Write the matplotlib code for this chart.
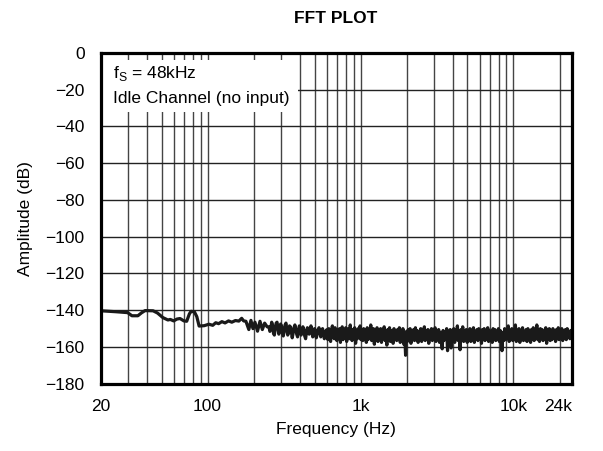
import numpy as np
import matplotlib.pyplot as plt
from matplotlib.patches import Rectangle

plt.rcParams['font.family'] = ['Liberation Sans', 'DejaVu Sans']
plt.rcParams['font.size'] = 12.5

# низкие частоты: ступенчатый участок (Гц, дБ)
lo_freq = [20, 25, 30, 32, 35, 37, 39, 44, 47, 51,
           55, 57, 60, 63, 66, 70, 73, 76, 78, 82,
           85, 88, 95, 102, 108, 113, 118, 124, 130, 137,
           144, 152, 160, 167, 172, 178, 186, 192, 198, 204,
           212, 220, 228, 236, 245]
lo_db = [-140.3, -140.8, -141.3, -143.0, -143.0, -141.4, -140.2, -140.3, -141.5, -144.0,
         -145.3, -145.0, -145.8, -144.8, -144.5, -145.8, -146.0, -142.0, -140.6, -140.9,
         -143.5, -148.6, -148.4, -147.6, -148.2, -146.8, -147.3, -146.2, -146.9, -145.8,
         -146.5, -145.6, -145.9, -144.4, -145.8, -146.0, -150.5, -145.5, -150.0, -146.5,
         -151.4, -146.0, -150.5, -147.0, -149.0]

# шумовая полоса от 250 Гц до 24 кГц
hi_db = [
    -149.0, -151.5, -150.0, -146.5, -148.0, -152.5, -153.5, -150.0, -147.0, -146.5,
    -149.5, -153.0, -151.0, -147.5, -148.5, -152.0, -154.0, -151.5, -148.0, -147.0,
    -150.5, -153.5, -152.0, -148.5, -149.0, -151.5, -155.0, -152.5, -149.5, -148.0,
    -150.0, -153.0, -154.5, -151.0, -148.5, -150.5, -153.5, -152.0, -149.0, -150.5,
    -154.0, -155.5, -152.0, -149.5, -151.0, -153.0, -150.5, -148.5, -151.5, -154.5,
    -152.5, -150.0, -151.5, -155.0, -153.0, -150.5, -149.5, -152.0, -154.5, -151.5,
    -150.0, -152.5, -155.5, -153.0, -151.0,
    -150.5, -156.0, -150.0, -154.5, -157.0, -151.0, -148.5, -154.0, -155.5, -149.5,
    -152.5, -156.5, -150.5, -155.0, -150.0, -157.5, -152.0, -149.0, -156.0, -151.0,
    -154.5, -149.5, -157.0, -152.5, -150.0, -155.5, -148.0, -153.0, -156.5, -150.5,
    -155.0, -149.5, -158.0, -152.0, -155.5, -150.0, -154.0, -148.5, -156.0, -151.0,
    -156.5, -150.0, -154.5, -152.0, -157.5, -149.5, -156.0, -150.5, -154.0, -148.0,
    -156.5, -152.5, -150.0, -158.5, -151.0, -155.0, -149.5, -157.0, -152.0, -155.5,
    -150.0, -157.5, -151.0, -154.5, -149.0, -156.5, -152.5, -159.0, -150.5, -155.5,
    -149.5, -157.0, -153.0, -151.0, -158.0, -150.0, -155.5, -152.0, -156.5, -150.5,
    -155.0, -149.5, -157.5, -152.5, -156.0, -150.0, -158.5, -153.0, -164.5, -151.5,
    -157.0, -150.5, -155.5, -150.0, -158.0, -152.5, -156.0, -150.5, -156.5, -149.5,
    -155.0, -151.0, -157.5, -152.0, -156.0, -150.0, -157.0, -151.0, -154.5, -149.0,
    -156.5, -152.5, -155.5, -150.5, -158.0, -152.0, -155.0, -150.0, -156.5, -151.0,
    -155.5, -149.5, -157.0, -152.5, -154.5, -150.5, -157.5, -152.0, -156.0, -161.0,
    -151.0, -156.5, -152.5, -155.5, -150.0, -162.0, -152.0, -157.0, -150.5, -160.5,
    -152.5, -156.0, -150.0, -157.5, -151.0, -155.0, -148.5, -156.5, -152.0, -161.5,
    -150.5, -156.0, -149.0, -157.0, -152.5, -154.5, -150.5, -157.5, -152.0, -155.5,
    -150.0, -157.0, -151.0, -155.0, -149.5, -157.5, -152.5, -155.5, -150.5, -156.5,
    -150.0, -155.0, -152.0, -158.0, -150.5, -156.0, -150.0, -156.5, -152.5, -155.0,
    -149.5, -157.0, -151.0, -155.5, -152.0, -157.5, -150.0, -156.0, -150.5, -156.5,
    -152.5, -154.5, -150.0, -157.0, -151.0, -155.5, -162.0, -152.0, -156.5, -150.0,
    -156.0, -151.0, -154.5, -148.5, -157.0, -152.0, -155.5, -150.0, -156.5, -150.5,
    -155.0, -148.0, -157.0, -152.5, -155.5, -150.0, -157.5, -151.0, -155.0, -149.5,
    -156.5, -152.0, -156.0, -150.5, -157.0, -150.0, -154.5, -152.5, -157.5, -150.5,
    -155.5, -149.5, -156.5, -152.0, -155.0, -148.0, -156.0, -151.0, -157.0, -150.0,
    -155.0, -150.5, -156.5, -152.5, -155.5, -149.5, -158.0, -151.0, -154.5, -150.0,
    -156.5, -152.0, -156.0, -150.0, -154.5, -151.0, -157.0, -150.5, -155.5, -149.5,
    -156.0, -151.0, -155.0, -150.0, -156.5, -151.5, -155.0, -150.5, -156.0, -150.0,
    -154.5, -151.5, -155.5, -151.0, -153.5,
]
# частоты шумовой полосы: равномерная сетка по логарифмической оси
hi_freq = np.geomspace(252, 24000, len(hi_db))

freq = np.concatenate([lo_freq, hi_freq])
amp = np.concatenate([lo_db, hi_db])

x_ticks = [20, 100, 1000, 10000, 24000]
x_labels = ['20', '100', '1k', '10k', '24k']
y_ticks = list(range(-180, 1, 20))

fig = plt.figure(figsize=(6.03, 4.51), dpi=100)
ax = fig.add_axes([0.167, 0.149, 0.781, 0.734])

ax.plot(freq, amp, color='#1a1a1a', linewidth=2.3, zorder=4)

ax.set_xscale('log')
ax.set_xlim(20, 24000)
ax.set_ylim(-180, 0)
ax.set_xticks(x_ticks)
ax.set_xticklabels(x_labels)
ax.xaxis.set_minor_formatter(plt.NullFormatter())
ax.set_yticks(y_ticks)
ax.tick_params(which='both', length=0)
ax.tick_params(axis='x', pad=11)
ax.tick_params(axis='y', pad=11.5)
ax.get_xticklabels()[-1].set_horizontalalignment('right')

ax.set_axisbelow(True)
ax.grid(True, which='both', axis='x', color='#444444', linewidth=1.0)
ax.grid(True, which='major', axis='y', color='#222222', linewidth=1.0)

for s in ax.spines.values():
    s.set_linewidth(2.3)
    s.set_zorder(5)

# белая подложка под подписью
ax.add_patch(Rectangle((20, -32), 370, 28, facecolor='white',
                       edgecolor='none', zorder=2))
ax.text(24, -11.3, 'f$_\\mathregular{S}$ = 48kHz', va='center', ha='left', zorder=3)
ax.text(24, -24.6, 'Idle Channel (no input)', va='center', ha='left', zorder=3)

ax.set_xlabel('Frequency (Hz)', labelpad=6)
ax.set_ylabel('Amplitude (dB)', labelpad=9)
fig.text(0.557, 0.96, 'FFT PLOT', ha='center', va='center',
         fontsize=12.5, fontweight='bold')

fig.savefig('out.png', dpi=100)
